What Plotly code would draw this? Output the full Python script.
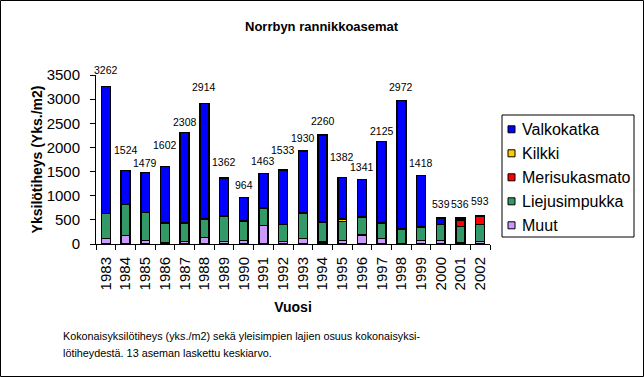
import plotly.graph_objects as go

years = [str(y) for y in range(1983, 2003)]
totals = [3262, 1524, 1479, 1602, 2308, 2914, 1362, 964, 1463, 1533,
          1930, 2260, 1382, 1341, 2125, 2972, 1418, 539, 536, 593]
muut = [118, 172, 69, 34, 48, 131, 48, 76, 380, 48,
        118, 41, 76, 186, 118, 15, 76, 76, 25, 48]
liejusimpukka = [517, 649, 580, 401, 387, 387, 532, 400, 365, 352,
                 524, 414, 387, 373, 317, 296, 276, 330, 334, 352]
merisukasmato = [0, 0, 0, 0, 0, 0, 0, 0, 0, 0,
                 0, 0, 0, 0, 0, 0, 0, 0, 138, 166]
kilkki = [0, 0, 0, 0, 0, 0, 0, 0, 0, 0,
          0, 0, 60, 0, 0, 0, 0, 0, 0, 0]
valkokatka = [2627, 703, 830, 1167, 1873, 2396, 782, 488, 718, 1133,
              1288, 1805, 859, 782, 1690, 2661, 1066, 133, 39, 27]
# vertical offsets (px) of total labels above bars
label_shift = [8, 12, 2, 14, 3, 8, 8, 4, 4, 12, 5, 6, 12, 4, 2, 5, 5, 6, 6, 6]

FONT = "Liberation Sans, Arial, sans-serif"
series = [
    ("Muut", muut, "#CC99FF"),
    ("Liejusimpukka", liejusimpukka, "#339966"),
    ("Merisukasmato", merisukasmato, "#FF0000"),
    ("Kilkki", kilkki, "#FFCC00"),
    ("Valkokatka", valkokatka, "#0000FF"),
]

L, R, T, B = 96, 154, 75, 133
W, H = 644, 377
pw, ph = W - L - R, H - T - B


def px(x):
    return (x - L) / pw


def py(y):
    return 1 - (y - T) / ph


fig = go.Figure()
for name, vals, col in series:
    fig.add_trace(go.Bar(
        x=years, y=vals, name=name, showlegend=False,
        marker=dict(color=col, line=dict(color="black", width=1.5)),
    ))

for i, (tot, sh) in enumerate(zip(totals, label_shift)):
    fig.add_annotation(x=i, y=tot, text=str(tot), showarrow=False,
                       yanchor="bottom", yshift=sh,
                       font=dict(family=FONT, size=10.5, color="black"))

# outer chart border
fig.add_shape(type="rect", xref="paper", yref="paper",
              x0=px(0.5), x1=px(W - 0.5), y0=py(H - 0.5), y1=py(0.5),
              line=dict(color="black", width=1))

# legend box (top entry first)
fig.add_shape(type="rect", xref="paper", yref="paper",
              x0=px(502), x1=px(634), y0=py(237), y1=py(115),
              line=dict(color="black", width=1), fillcolor="white")
legend_y = [129.3, 153.3, 177.3, 201.3, 225.3]
for (name, vals, col), ly in zip(reversed(series), legend_y):
    fig.add_shape(type="rect", xref="paper", yref="paper",
                  x0=px(508), x1=px(515), y0=py(ly + 3.5), y1=py(ly - 3.5),
                  line=dict(color="black", width=1), fillcolor=col)
    fig.add_annotation(xref="paper", yref="paper", x=px(520), y=py(ly),
                       xanchor="left", yanchor="middle", text=name, showarrow=False,
                       font=dict(family=FONT, size=16, color="black"))

fig.add_annotation(xref="paper", yref="paper", x=px(322), y=py(27),
                   xanchor="center", yanchor="middle",
                   text="<b>Norrbyn rannikkoasemat</b>", showarrow=False,
                   font=dict(family=FONT, size=13, color="black"))
fig.add_annotation(xref="paper", yref="paper", x=px(61), y=py(336),
                   xanchor="left", yanchor="middle", align="left",
                   text="Kokonaisyksilötiheys (yks./m2) sekä yleisimpien lajien osuus kokonaisyksi-",
                   showarrow=False, font=dict(family=FONT, size=10.8, color="black"))
fig.add_annotation(xref="paper", yref="paper", x=px(61), y=py(352.5),
                   xanchor="left", yanchor="middle", align="left",
                   text="lötiheydestä. 13 aseman laskettu keskiarvo.",
                   showarrow=False, font=dict(family=FONT, size=10.8, color="black"))

fig.update_layout(
    width=W, height=H,
    margin=dict(l=L, r=R, t=T, b=B, pad=0),
    paper_bgcolor="white", plot_bgcolor="white",
    barmode="stack", bargap=0.55,
    font=dict(family=FONT, size=14, color="black"),
    showlegend=False,
    xaxis=dict(type="category", range=[-0.5, 19.5], showline=True, linecolor="black", linewidth=1,
               ticks="outside", tickson="boundaries", ticklen=5, tickcolor="black",
               tickangle=-90, tickfont=dict(size=15), ticklabelstandoff=6,
               title=dict(text="<b>Vuosi</b>", font=dict(size=14), standoff=12),
               showgrid=False, zeroline=False, automargin=False),
    yaxis=dict(range=[0, 3500], dtick=500, showline=True, linecolor="black", linewidth=1,
               ticks="outside", ticklen=5, tickcolor="black", tickfont=dict(size=15),
               ticklabelstandoff=7,
               title=dict(text="<b>Yksilötiheys (Yks./m2)</b>", font=dict(size=14), standoff=0),
               showgrid=False, zeroline=False, automargin=False),
)

fig.write_html("out.html", config={"displayModeBar": False},
               post_script="document.body.style.margin='0';document.body.style.overflow='hidden';")
